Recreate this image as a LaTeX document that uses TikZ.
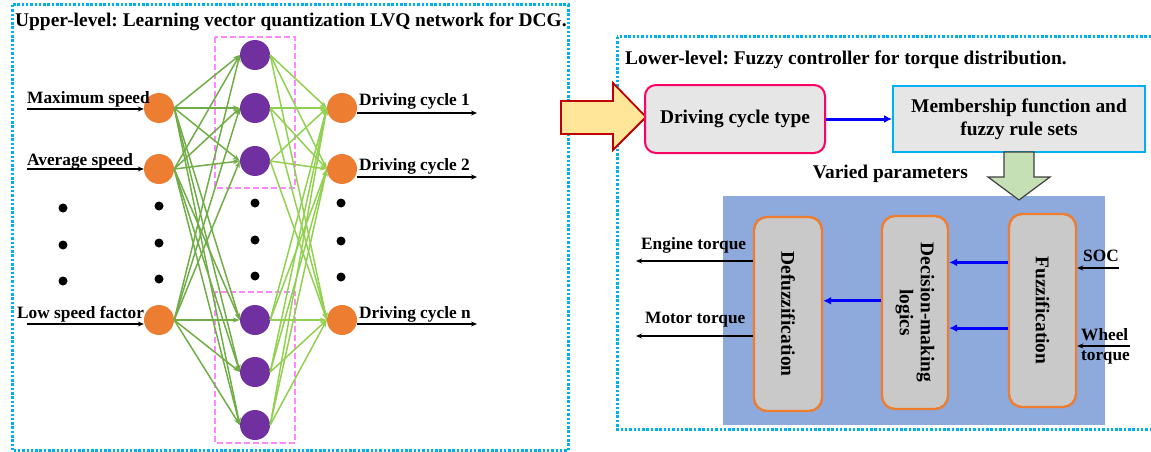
\documentclass[tikz,border=0pt]{standalone}
\usepackage{fontspec}
\setmainfont{Liberation Serif}
\usetikzlibrary{arrows.meta,calc}
\definecolor{cybox}{HTML}{00B0F0}
\definecolor{pinkd}{HTML}{FF88FF}
\definecolor{orng}{HTML}{ED7D31}
\definecolor{purp}{HTML}{7030A0}
\definecolor{gdark}{HTML}{70AD47}
\definecolor{glight}{HTML}{92D050}
\definecolor{panel}{HTML}{8EA9DB}
\definecolor{boxg}{HTML}{E6E6E6}
\definecolor{boxd}{HTML}{C9C9C9}
\definecolor{crim}{HTML}{FF0066}
\definecolor{yel}{HTML}{FFE699}
\definecolor{dred}{HTML}{C00000}
\definecolor{lgreen}{HTML}{C5E0B4}
\newcommand\bigfnt{\fontsize{19.4}{22}\selectfont\bfseries}
\newcommand\smlfnt{\fontsize{17.3}{20}\selectfont\bfseries}
\frenchspacing
\begin{document}
\begin{tikzpicture}[x=1pt,y=-1pt,
  frame/.style={draw=cybox,line width=3pt,dash pattern=on 2.5pt off 1.8pt},
  grp/.style={draw=pinkd,line width=1.6pt,dash pattern=on 6pt off 3pt},
  inode/.style={circle,fill=orng,minimum size=30pt,inner sep=0pt},
  hnode/.style={circle,fill=purp,minimum size=30pt,inner sep=0pt},
  dotnode/.style={circle,fill=black,minimum size=9pt,inner sep=0pt},
  ih/.style={draw=gdark,line width=1.5pt,-{Stealth[length=7pt,width=5pt]}},
  ho/.style={draw=glight,line width=1.5pt,-{Stealth[length=7pt,width=5pt]}},
  blk/.style={draw=black,line width=2pt,-{Stealth[length=6pt,width=5pt]}},
  blu/.style={draw=blue,line width=3pt,-{Latex[length=8pt,width=8pt]}},
  lbl/.style={font=\smlfnt,inner sep=0pt,anchor=base west},
  lbox/.style={draw=orng,line width=2.4pt,fill=boxd,rounded corners=13pt},
]
\useasboundingbox (0,0) rectangle (1151,452);
% frames
\draw[frame] (12,5) rectangle (568,450.5);
\draw[frame] (617,37) rectangle (1165,429);
\node[font=\bigfnt,inner sep=0pt,anchor=base west] (t1) at (15,27) {Upper-level: Learning vector quantization LVQ network for DCG.};
\node[font=\bigfnt,inner sep=0pt,anchor=base west] (t2) at (625,65) {Lower-level: Fuzzy controller for torque distribution.};
% groups
\draw[grp] (215,37) rectangle (295,188);
\draw[grp] (215,292) rectangle (295,443);
% nodes
\node[inode] (i1) at (159,108) {};
\node[inode] (i2) at (159,169) {};
\node[inode] (i3) at (159,320) {};
\node[hnode] (h1) at (255,55) {};
\node[hnode] (h2) at (255,108) {};
\node[hnode] (h3) at (255,161) {};
\node[hnode] (h4) at (255,320) {};
\node[hnode] (h5) at (255,372) {};
\node[hnode] (h6) at (255,425) {};
\node[inode] (o1) at (342,108) {};
\node[inode] (o2) at (342,169) {};
\node[inode] (o3) at (342,320) {};
\foreach \i in {1,2,3}{\foreach \h in {1,...,6}{
  \draw[ih] (i\i.east) -- (h\h.west);
  \draw[ho] (h\h.east) -- (o\i.west);}}
% dots
\foreach \y [count=\k] in {208,245,281}{\node[dotnode] (da\k) at (63,\y) {};}
\foreach \y [count=\k] in {206,243,279}{\node[dotnode] (db\k) at (159,\y) {};}
\foreach \y [count=\k] in {203,240,276}{\node[dotnode] (dc\k) at (255,\y) {};}
\foreach \y [count=\k] in {203,241,277}{\node[dotnode] (dd\k) at (341,\y) {};}
% input labels
\node[lbl] (l1) at (27,103) {Maximum speed};
\node[lbl] (l2) at (27,165) {Average speed};
\node[lbl] (l3) at (17,318) {Low speed factor};
\coordinate (s1) at (27,109);
\coordinate (s2) at (27,169);
\coordinate (s3) at (27,324);
\draw[blk] (s1) -- (s1 -| i1.west);
\draw[blk] (s2) -- (s2 -| i2.west);
\draw[blk] (s3) -- (s3 -| i3.west);
% output labels
\node[lbl] (r1) at (359,105) {Driving cycle 1};
\node[lbl] (r2) at (359,170) {Driving cycle 2};
\node[lbl] (r3) at (359,318) {Driving cycle n};
\coordinate (e1) at (477,113);
\coordinate (e2) at (477,177);
\coordinate (e3) at (477,324);
\draw[blk] (o1.east |- e1) -- (e1);
\draw[blk] (o2.east |- e2) -- (e2);
\draw[blk] (o3.east |- e3) -- (e3);
% big yellow arrow
\draw[draw=dred,fill=yel,line width=1.8pt,line join=miter]
  (561,101) -- (613,101) -- (613,83) -- (646,117) -- (613,150) -- (613,134) -- (561,134) -- cycle;
% top boxes
\node[draw=crim,line width=2pt,fill=boxg,rounded corners=11pt,minimum width=180pt,minimum height=68pt,font=\bigfnt] (dct) at (735,119) {Driving cycle type};
\node[draw=cybox,line width=2pt,fill=boxg,minimum width=252pt,minimum height=66pt,font=\bigfnt,align=center] (mem) at (1019,119) {Membership function and\\[1pt]fuzzy rule sets};
\draw[blu] (dct.east) -- (mem.west);
\node[font=\bigfnt,inner sep=0pt,anchor=base east] (vp) at (968,178) {Varied parameters};
% panel
\fill[panel] (723,196) rectangle (1105,425);
% green down arrow
\draw[draw=black!75,fill=lgreen,line width=1.2pt,line join=miter]
  (1004,152) -- (1034,152) -- (1034,177) -- (1050,177) -- (1019,200) -- (988,177) -- (1004,177) -- cycle;
% lower boxes
\node[lbox,minimum width=68pt,minimum height=194pt] (def) at (788,314) {};
\node[lbox,minimum width=66pt,minimum height=193pt] (dec) at (915,312.5) {};
\node[lbox,minimum width=67pt,minimum height=193pt] (fuz) at (1042.5,310.5) {};
\node[font=\bigfnt,rotate=-90] (deft) at (def) {Defuzzification};
\node[font=\bigfnt,rotate=-90,align=center] (dect) at (dec) {Decision-making\\[-1pt]logics};
\node[font=\bigfnt,rotate=-90] (fuzt) at (fuz) {Fuzzification};
\draw[blu] ($(fuz.north west)!0.254!(fuz.south west)$) coordinate (f1) -- (f1 -| dec.east);
\draw[blu] ($(fuz.north west)!0.59!(fuz.south west)$) coordinate (f2) -- (f2 -| dec.east);
\draw[blu] ($(dec.north west)!0.44!(dec.south west)$) coordinate (d1) -- (d1 -| def.east);
% outputs
\coordinate (eo1) at (636,261);
\coordinate (eo2) at (636,336);
\draw[blk] (def.west |- eo1) -- (eo1);
\draw[blk] (def.west |- eo2) -- (eo2);
\node[lbl] (et) at (641,249) {Engine torque};
\node[lbl] (mt) at (645,323) {Motor torque};
% inputs
\node[lbl] (soc) at (1083,261) {SOC};
\node[lbl] (wh) at (1081,340) {Wheel};
\node[lbl] (tq) at (1081,360) {torque};
\coordinate (ci1) at (1119,268);
\coordinate (ci2) at (1130,346);
\draw[blk] (ci1) -- (ci1 -| fuz.east);
\draw[blk] (ci2) -- (ci2 -| fuz.east);
\end{tikzpicture}
\end{document}
